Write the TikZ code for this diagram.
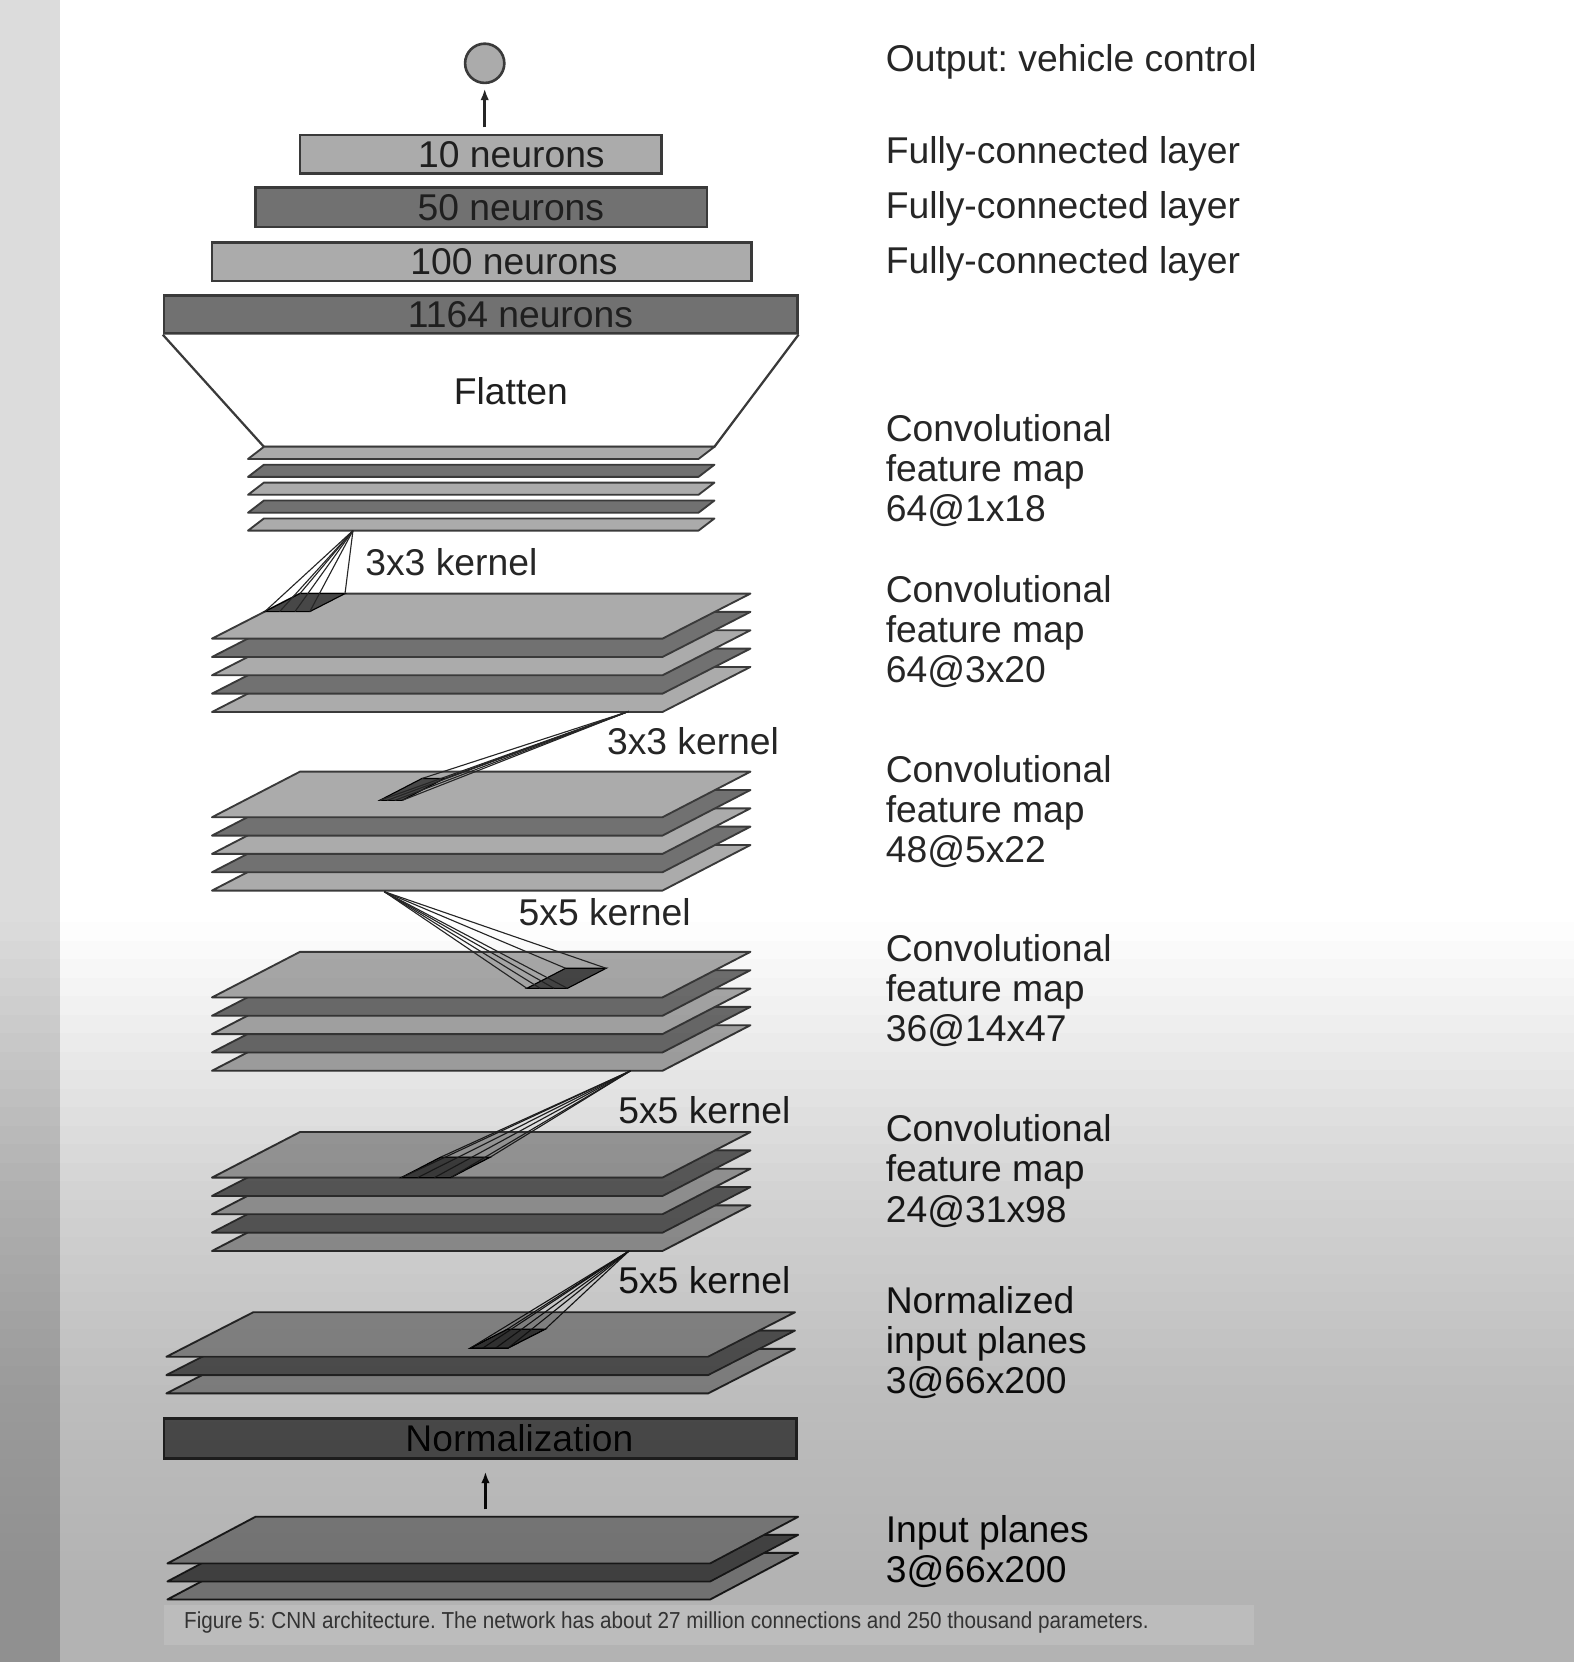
\documentclass[tikz,border=0pt]{standalone}
\usepackage{fontspec}
\setmainfont{Liberation Sans}
\usepackage{graphicx}
\usepackage{xcolor}
\usepackage{tikz}
\usetikzlibrary{positioning, shapes, arrows, calc, arrows.meta}
\frenchspacing

\definecolor{plateLight}{HTML}{ABABAB}
\definecolor{plateDark}{HTML}{717171}
\definecolor{edgeGrey}{HTML}{3A3A3A}
\definecolor{stripGrey}{HTML}{DCDCDC}

\tikzset{
  plate/.style={draw=edgeGrey, line width=0.5pt, line join=round},
  layerbox/.style={draw=edgeGrey, rectangle, line width=0.7pt, inner sep=0pt},
  boxtext/.style={font=\fontsize{10}{12}\selectfont, text=black!88, inner sep=0pt},
  sidelabel/.style={font=\fontsize{10}{10.8}\selectfont, text=black!85, align=left, inner sep=0pt, anchor=base west},
  kernellabel/.style={font=\fontsize{10}{12}\selectfont, text=black!85, inner sep=0pt, anchor=base west},
  fanline/.style={black!85, line width=0.3pt},
  kernelpatch/.style={fill=black!72, draw=black, line width=0.3pt},
  arrowline/.style={-{Latex[length=0.11cm, width=0.08cm]}, line width=0.7pt, black!85},
  declare function={plx(\fu,\fv)=\plL+\fv*\plD+\fu*\plW; ply(\fu,\fv)=\plY+\plH*(1-\fv);}
}

% stack of feature maps: front-left x, back y, width, depth shift, height, spacing, count
\newcommand{\featstack}[7]{%
  \foreach \k in {#7,...,1}{
    \pgfmathsetmacro{\yt}{#2+(\k-1)*#6}
    \pgfmathtruncatemacro{\odd}{mod(\k,2)}
    \ifnum\odd=1 \def\pc{plateLight}\else\def\pc{plateDark}\fi
    \filldraw[plate, fill=\pc] ({#1+#4},\yt) -- ({#1+#4+#3},\yt) -- ({#1+#3},{\yt+#5}) -- (#1,{\yt+#5}) -- cycle;
  }
}

% kernel patch on a plate and the lines up to its apex
\newcommand{\kfan}[5]{%
  \path[kernelpatch] ({plx(#2,#4)},{ply(#2,#4)}) -- ({plx(#3,#4)},{ply(#3,#4)}) -- ({plx(#3,#5)},{ply(#3,#5)}) -- ({plx(#2,#5)},{ply(#2,#5)}) -- cycle;
  \foreach \fu/\fv in {#2/#4, #3/#4, #3/#5, #2/#5}
    \draw[fanline] (#1) -- ({plx(\fu,\fv)},{ply(\fu,\fv)});
  \foreach \t in {0.33, 0.67}
    \draw[fanline] (#1) -- ({plx(#2+\t*(#3-#2),#4)},{ply(#2+\t*(#3-#2),#4)});
}

\begin{document}
\begin{tikzpicture}[x=0.01cm, y=-0.01cm]
      \useasboundingbox (0,0) rectangle (1485,1568);
      \fill[white] (0,0) rectangle (1485,1568);
      \fill[stripGrey] (0,0) rectangle (57,1568);

      % Output
      \node[circle, draw=edgeGrey, line width=0.7pt, fill=plateLight, minimum size=0.37cm, inner sep=0pt] (out) at (457.3,59.7) {};

      % Fully-connected layers
      \node[layerbox, fill=plateLight, minimum width=3.41cm, minimum height=0.36cm] (fc10) at (453.5,145.5) {};
      \node[layerbox, fill=plateDark, minimum width=4.26cm, minimum height=0.37cm] (fc50) at (454,195.5) {};
      \node[layerbox, fill=plateLight, minimum width=5.09cm, minimum height=0.36cm] (fc100) at (454.5,247) {};
      \node[layerbox, fill=plateDark, minimum width=5.97cm, minimum height=0.36cm] (dense1164) at (453.5,296.5) {};

      \node[boxtext] (fc10txt) at ([xshift=0.29cm]fc10.center) {10 neurons};
      \node[boxtext] (fc50txt) at ([xshift=0.28cm]fc50.center) {50 neurons};
      \node[boxtext] (fc100txt) at ([xshift=0.305cm]fc100.center) {100 neurons};
      \node[boxtext] (dense1164txt) at ([xshift=0.375cm]dense1164.center) {1164 neurons};

      \draw[arrowline, shorten <=0.06cm, shorten >=0.04cm] (out |- fc10.north) -- (out.south);

      % Flatten
      \filldraw[fill=white, draw=edgeGrey, line width=0.6pt] (dense1164.south west) -- (249,421.5) -- (674,421.5) -- (dense1164.south east);
      \node[boxtext] (flattentxt) at (482,369.5) {Flatten};

      % Feature maps
      \featstack{234}{421.5}{425}{15}{11.5}{16.9}{5}
      \featstack{200}{560}{425}{83}{42.5}{17.3}{5}
      \featstack{200}{728}{425}{83}{43}{17.3}{5}
      \featstack{200}{898}{425}{83}{43}{17.3}{5}
      \featstack{200}{1068}{425}{83}{43}{17.3}{5}
      \featstack{157}{1238}{511}{82}{42}{17.3}{3}
      \featstack{158}{1431}{512}{83}{44}{17}{3}

      % Kernels
      \coordinate (apexA) at (333,500.6);
      \coordinate (apexB) at (593,671.2);
      \coordinate (apexC) at (362.5,841.2);
      \coordinate (apexD) at (595,1010.2);
      \coordinate (apexE) at (593.5,1180.2);

      \def\plL{200}\def\plY{560}\def\plW{425}\def\plD{83}\def\plH{42.5}
      \kfan{apexA}{0}{0.1}{0.6}{1}
      \def\plY{728}\def\plH{43}
      \kfan{apexB}{0.30}{0.35}{0.37}{0.85}
      \def\plY{898}
      \kfan{apexC}{0.66}{0.75}{0.2}{0.64}
      \def\plY{1068}
      \kfan{apexD}{0.42}{0.53}{0}{0.45}
      \def\plL{157}\def\plY{1238}\def\plW{511}\def\plD{82}\def\plH{42}
      \kfan{apexE}{0.53}{0.60}{0.19}{0.62}

      \node[kernellabel] (kerA) at (344,542.5) {3x3 kernel};
      \node[kernellabel] (kerB) at (572,712) {3x3 kernel};
      \node[kernellabel] (kerC) at (488.6,873) {5x5 kernel};
      \node[kernellabel] (kerD) at (582.7,1060) {5x5 kernel};
      \node[kernellabel] (kerE) at (582.7,1220) {5x5 kernel};

      % Normalization
      \node[layerbox, fill=plateDark, minimum width=5.96cm, minimum height=0.38cm] (norm) at (453,1357) {};
      \node[boxtext] (normtxt) at ([xshift=0.37cm]norm.center) {Normalization};
      \coordinate (inplanes) at (458,1431);
      \draw[arrowline, shorten <=0.07cm, shorten >=0.11cm] (inplanes) -- (inplanes |- norm.south);

      % Labels (base = last line)
      \node[sidelabel] (lblout) at (835,67.6) {Output: vehicle control};
      \node[sidelabel] (lblfcA) at (835,154) {Fully-connected layer};
      \node[sidelabel] (lblfcB) at (835,206) {Fully-connected layer};
      \node[sidelabel] (lblfcC) at (835,258) {Fully-connected layer};
      \node[sidelabel] (lblconvA) at (835,492) {Convolutional\\feature map\\64@1x18};
      \node[sidelabel] (lblconvB) at (835,644) {Convolutional\\feature map\\64@3x20};
      \node[sidelabel] (lblconvC) at (835,814) {Convolutional\\feature map\\48@5x22};
      \node[sidelabel] (lblconvD) at (835,983) {Convolutional\\feature map\\36@14x47};
      \node[sidelabel] (lblconvE) at (835,1153) {Convolutional\\feature map\\24@31x98};
      \node[sidelabel] (lblnorm) at (835,1315) {Normalized\\input planes\\3@66x200};
      \node[sidelabel] (lblin) at (835,1493) {Input planes\\3@66x200};

      % screen shading
      \foreach \i in {1,...,40}{
        \pgfmathsetmacro{\acur}{0.26*(1-(1-(\i-0.5)/40)^2)}
        \pgfmathsetmacro{\aprev}{0.26*(1-(1-max(\i-1.5,0)/40)^2)}
        \pgfmathsetmacro{\dstep}{1-(1-\acur)/(1-\aprev)}
        \fill[black, fill opacity=\dstep] (0,{870+(\i-1)*17.45}) rectangle (1485,1568);
      }

      % Caption
      \fill[white, fill opacity=0.12] (155,1514) rectangle (1183,1552);
      \node[anchor=west, inner sep=0pt, text=black!80] (caption) at (173,1531) {\scalebox{0.895}[1]{\fontsize{6.2}{7}\selectfont Figure 5: CNN architecture. The network has about 27 million connections and 250 thousand parameters.}};
    \end{tikzpicture}
\end{document}
